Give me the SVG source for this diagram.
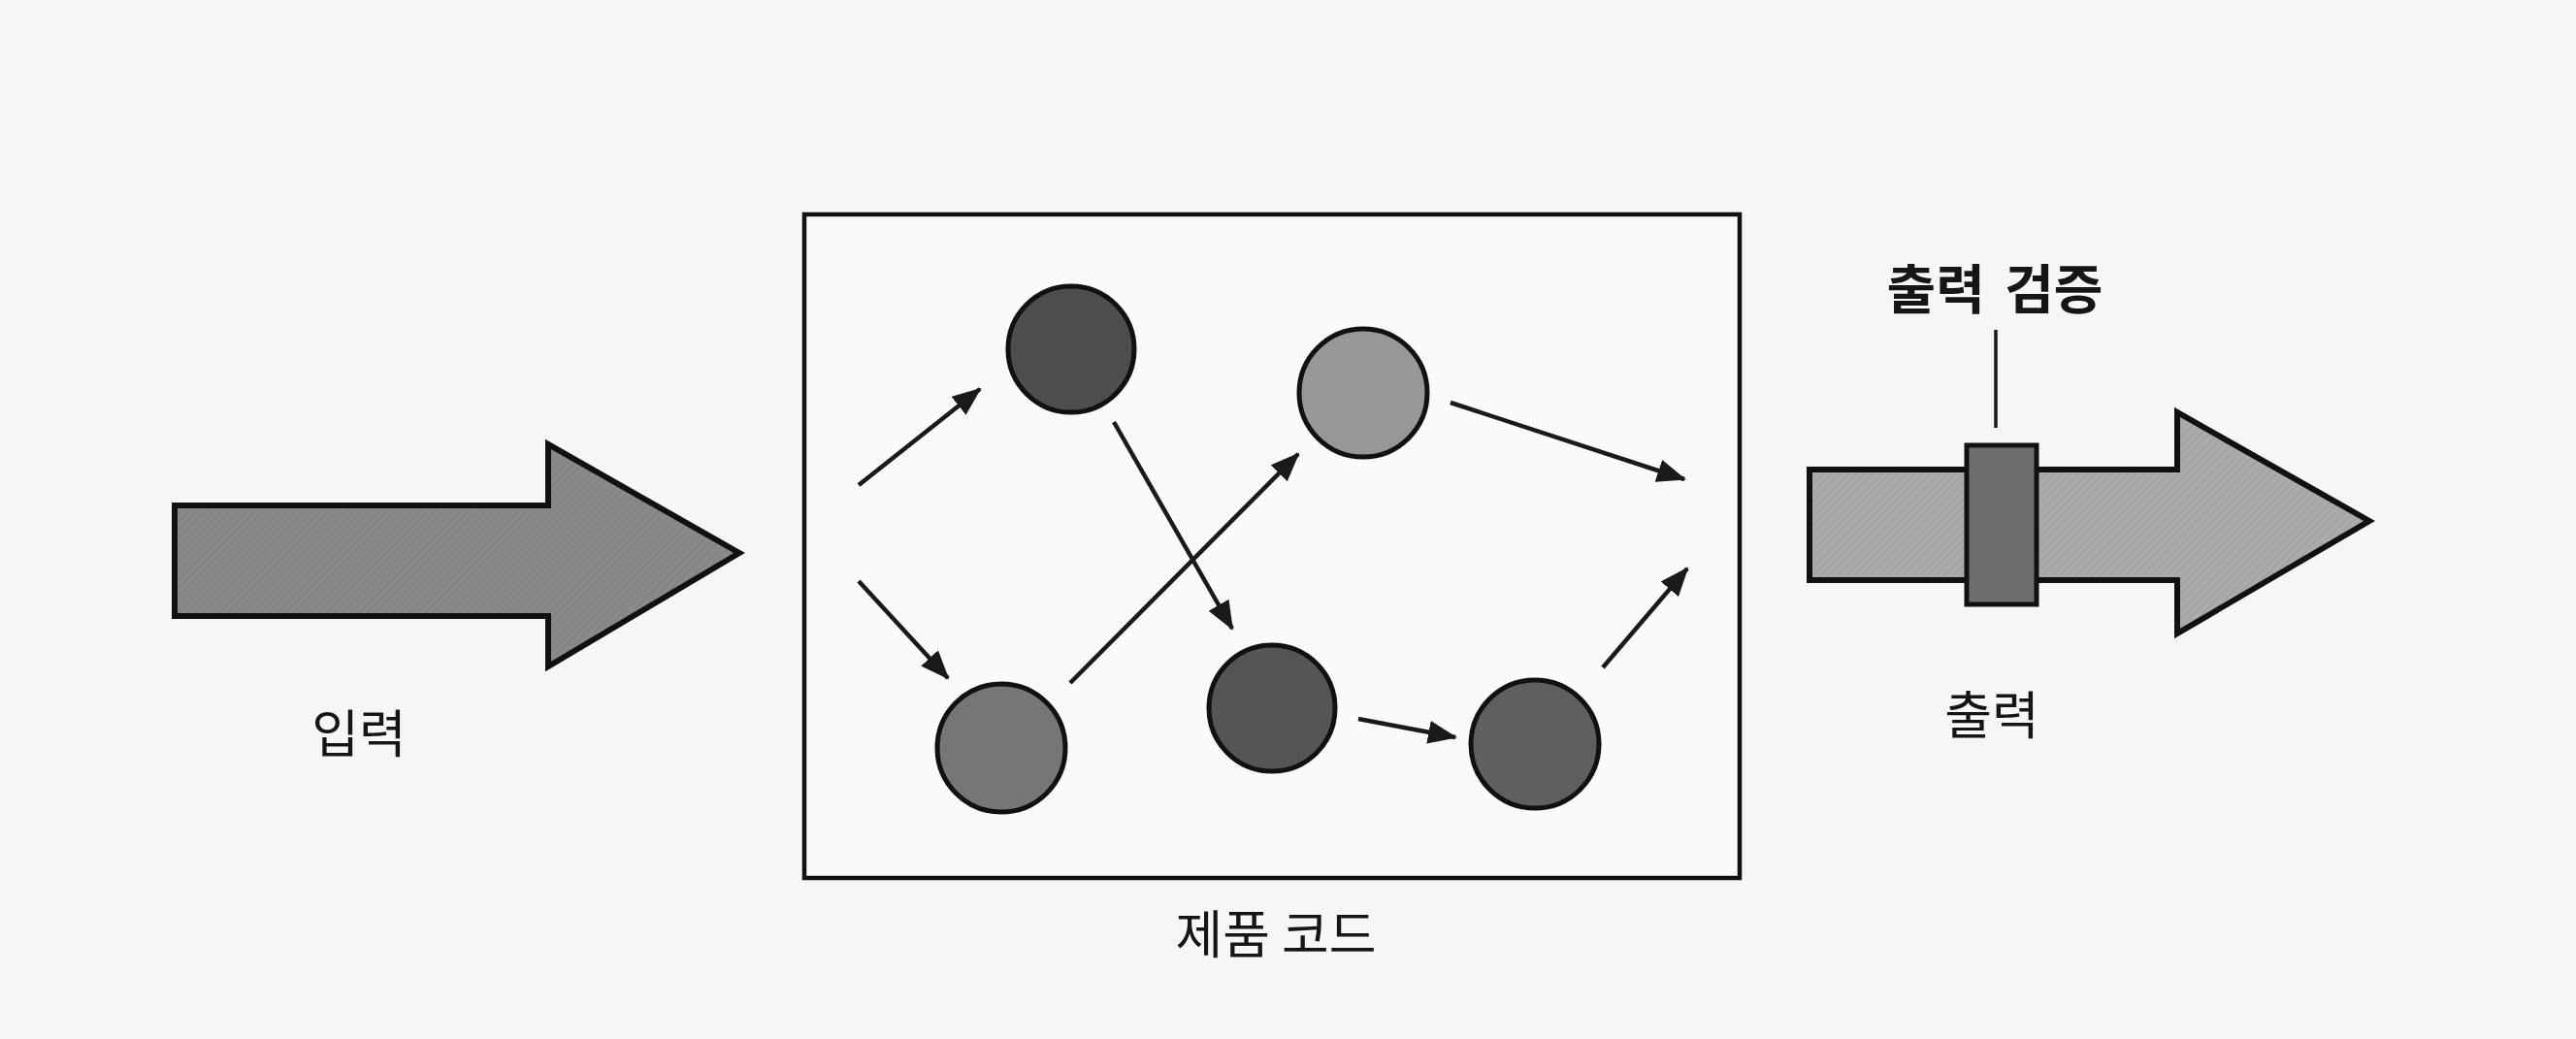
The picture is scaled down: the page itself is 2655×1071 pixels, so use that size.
<svg xmlns="http://www.w3.org/2000/svg" width="2655" height="1071" viewBox="0 0 2655 1071">
<style>
.lbl{font-family:"Noto Sans CJK KR","Noto Sans",sans-serif;font-size:53px;font-weight:400;fill:#151515;text-anchor:middle}
.bold{font-weight:700;font-size:55px;word-spacing:8px}
.big{stroke:#111;stroke-width:6;stroke-linejoin:miter}
.node{stroke:#111;stroke-width:5}
.edge{stroke:#1a1a1a;stroke-width:4.5;fill:none;marker-end:url(#ah)}
</style>
<defs>
<marker id="ah" markerUnits="userSpaceOnUse" markerWidth="30" markerHeight="24" viewBox="0 0 30 24" refX="28" refY="12" orient="auto">
<path d="M0,0 L30,12 L0,24 Z" fill="#1a1a1a"/>
</marker>
<pattern id="hatch" width="6" height="6" patternUnits="userSpaceOnUse" patternTransform="rotate(45)">
<rect width="6" height="6" fill="none"/>
<line x1="0" y1="0" x2="0" y2="6" stroke="#000" stroke-opacity="0.08" stroke-width="2"/>
</pattern>
</defs>
<rect width="2655" height="1071" fill="#f6f6f6"/>

<g id="input">
<polygon class="big" points="180,521 565,521 565,458 762,570 565,687 565,635 180,635" fill="#8a8a8a"/>
<polygon points="180,521 565,521 565,458 762,570 565,687 565,635 180,635" fill="url(#hatch)"/>
<text class="lbl" x="370" y="776">입력</text>
</g>

<g id="product-code">
<rect x="829" y="221" width="964" height="684" fill="#fafafa" stroke="#111" stroke-width="4.5"/>
<text class="lbl" x="1315" y="983">제품 코드</text>
</g>

<g id="node1"><circle class="node" cx="1104" cy="360" r="65" fill="#4e4e4e"/></g>
<g id="node2"><circle class="node" cx="1405" cy="405" r="66" fill="#979797"/></g>
<g id="node3"><circle class="node" cx="1032" cy="771" r="66" fill="#767676"/></g>
<g id="node4"><circle class="node" cx="1311" cy="730" r="65" fill="#555555"/></g>
<g id="node5"><circle class="node" cx="1582" cy="767" r="66" fill="#5f5f5f"/></g>

<g id="connectors">
<line class="edge" x1="885" y1="500" x2="1010" y2="401"/>
<line class="edge" x1="885" y1="599" x2="977" y2="699"/>
<line class="edge" x1="1103" y1="704" x2="1338" y2="468"/>
<line class="edge" x1="1148" y1="435" x2="1270" y2="648"/>
<line class="edge" x1="1495" y1="415" x2="1736" y2="494"/>
<line class="edge" x1="1400" y1="741" x2="1500" y2="760"/>
<line class="edge" x1="1652" y1="688" x2="1739" y2="586"/>
</g>

<g id="output">
<polygon class="big" points="1865,484 2244,484 2244,425 2442,537 2244,653 2244,598 1865,598" fill="#ababab"/>
<polygon points="1865,484 2244,484 2244,425 2442,537 2244,653 2244,598 1865,598" fill="url(#hatch)"/>
<text class="lbl" x="2053" y="757">출력</text>
</g>

<g id="output-validation">
<rect x="2027" y="459" width="72" height="164" fill="#6e6e6e" stroke="#111" stroke-width="5"/>
<line x1="2057" y1="340" x2="2057" y2="441" stroke="#1a1a1a" stroke-width="3.5"/>
<text class="lbl bold" x="2056" y="318">출력 검증</text>
</g>
</svg>
